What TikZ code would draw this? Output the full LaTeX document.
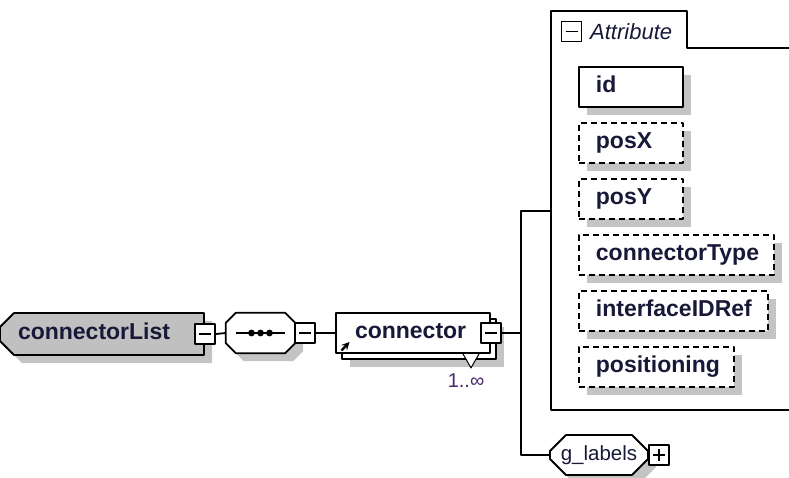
\documentclass[tikz,border=0pt]{standalone}
\usepackage{fontspec}
\setmainfont{Liberation Sans}
\usetikzlibrary{shapes.misc,shadows}
\definecolor{ink}{RGB}{24,24,56}
\definecolor{multi}{RGB}{70,40,110}
\definecolor{shade}{RGB}{196,196,196}
\definecolor{boxgray}{RGB}{192,192,192}
\tikzset{
  shadow8/.style={drop shadow={shadow xshift=8pt,shadow yshift=-8pt,fill=shade,opacity=1}},
  elembox/.style={draw, line width=1.8pt, fill=white, text=ink, font=\bfseries\fontsize{23}{26}\selectfont,
    minimum height=40pt, inner ysep=0pt, text height=16pt, text depth=5pt, align=left},
  octa/.style={chamfered rectangle, chamfered rectangle xsep=#1, chamfered rectangle ysep=#1, draw, line width=1.8pt,
    fill=white, minimum height=40pt, inner sep=0pt, shadow8},
  attr/.style={elembox, anchor=west, inner xsep=17pt, shadow8},
  attrdash/.style={dash pattern=on 6pt off 4pt},
  wire/.style={line width=1.8pt},
  toggle/.style={draw, line width=1.5pt, fill=white, minimum size=20pt, inner sep=0pt},
  minus/.style={toggle, path picture={\draw[line width=1.5pt] ([xshift=4pt]path picture bounding box.west) -- ([xshift=-4pt]path picture bounding box.east);}},
  plus/.style={toggle, path picture={\draw[line width=1.5pt] ([xshift=4pt]path picture bounding box.west) -- ([xshift=-4pt]path picture bounding box.east)
    ([yshift=4pt]path picture bounding box.south) -- ([yshift=-4pt]path picture bounding box.north);}}
}
\begin{document}
\begin{tikzpicture}[x=1pt, y=-1pt, line join=round, >=stealth]
\useasboundingbox (0,0) rectangle (789,477);
% root element
\node[elembox, fill=boxgray, chamfered rectangle, chamfered rectangle corners={north west,south west},
  chamfered rectangle xsep=7pt, chamfered rectangle ysep=7pt, minimum width=190pt, minimum height=42pt,
  text width=168pt, inner xsep=11pt, shadow8] (clist) at (102,334) {connectorList};
\node[minus] (clisttog) at (clist.east) {};
% sequence
\node[minimum width=69pt, minimum height=40pt, inner sep=0pt] (seq) at (260.5,333) {};
\draw[wire, fill=white, shadow8] ([xshift=10pt]seq.north west) -- ([xshift=-10pt]seq.north east)
  -- ([yshift=-10pt]seq.north east) -- ([yshift=10pt]seq.south east) -- ([xshift=-10pt]seq.south east)
  -- ([xshift=10pt]seq.south west) -- ([yshift=10pt]seq.south west) -- ([yshift=-10pt]seq.north west) -- cycle;
\draw[wire] ([xshift=10pt]seq.west) -- ([xshift=-10pt]seq.east);
\foreach \d in {-9,0,9}
  \fill[black] ([xshift=\d pt]seq.center) circle (3.4pt);
\node[minus] (seqtog) at ([xshift=10pt]seq.east) {};
% connector, 1..unbounded
\node[elembox, minimum width=154pt, shadow8] (connback) at (419,339) {};
\draw[line width=1pt, fill=white] ([xshift=44pt,yshift=6pt]connback.south) -- ([xshift=52pt,yshift=-8pt]connback.south)
  -- ([xshift=60pt,yshift=6pt]connback.south);
\node[elembox, text width=116pt, inner xsep=19pt] (conn) at (413,333) {connector};
\draw[line width=2.4pt, ->] (341.5,350.5) -- (349.5,342);
\node[minus] (conntog) at (conn.east) {};
\node[text=multi, font=\fontsize{20}{22}\selectfont, inner sep=0pt] (mult) at (466,380.5) {1..∞};
% attributes
\coordinate (fork) at (521,333);
\coordinate (attrin) at (551,211);
\draw[line width=1.8pt] (800,48) -- (687,48) -- (687,11) -- (551,11) -- (551,410) -- (800,410);
\node[minus] (attrtog) at (571.5,31.5) {};
\node[font=\itshape\fontsize{22}{24}\selectfont, text=ink, anchor=west, inner sep=0pt] (attrtitle) at (590,31.5) {Attribute};
\foreach \n/\w/\s [count=\i from 0] in {id/70/solid, posX/70/attrdash, posY/70/attrdash,
    connectorType/161/attrdash, interfaceIDRef/155/attrdash, positioning/121/attrdash}
  \node[attr, \s, text width=\w pt] (\n) at (578,{87+56*\i}) {\n};
% group
\node[octa=8pt, minimum width=98pt, text=ink, font=\fontsize{20.5}{24}\selectfont] (glab) at (599,455) {g\_labels};
\node[plus] (glabtog) at ([xshift=10pt]glab.east) {};
% wires
\draw[wire] (clisttog.east) -- (seq.west);
\draw[wire] (seqtog.east) -- (conn.west);
\draw[wire] (conntog.east) -- (fork);
\draw[wire] (attrin) -| (fork) |- (glab.west);
\end{tikzpicture}
\end{document}
